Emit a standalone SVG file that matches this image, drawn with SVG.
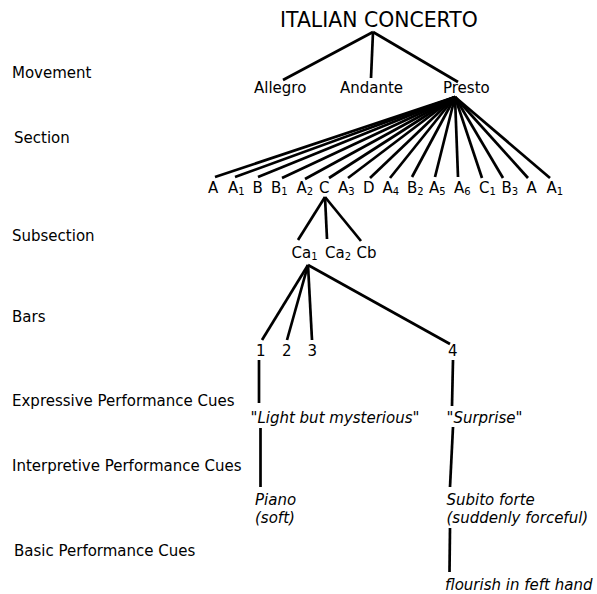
<svg xmlns="http://www.w3.org/2000/svg" width="597" height="594" viewBox="0 0 597 594">
<style>
text{font-family:"DejaVu Sans","Verdana",sans-serif;font-size:15px;fill:#000}
.t{font-size:20.4px}
.i{font-style:italic}
.s{font-size:10px}
#edges line{stroke:#000;stroke-width:2.7;stroke-linecap:butt}
</style>
<rect width="597" height="594" fill="#fff"/>
<g id="levels">
<text x="12" y="78">Movement</text>
<text x="14" y="143">Section</text>
<text x="12" y="241">Subsection</text>
<text x="12" y="322">Bars</text>
<text x="12" y="406">Expressive Performance Cues</text>
<text x="12" y="471">Interpretive Performance Cues</text>
<text x="14" y="556">Basic Performance Cues</text>
</g>
<g id="edges">
<line x1="373" y1="32" x2="283" y2="80"/>
<line x1="373" y1="32" x2="371" y2="78"/>
<line x1="373" y1="32" x2="458" y2="82"/>
<line x1="455" y1="97" x2="215" y2="177"/>
<line x1="455" y1="97" x2="235" y2="177"/>
<line x1="455" y1="97" x2="258" y2="177"/>
<line x1="455" y1="97" x2="282" y2="178"/>
<line x1="455" y1="97" x2="305" y2="179"/>
<line x1="455" y1="97" x2="329" y2="178"/>
<line x1="455" y1="97" x2="348" y2="178"/>
<line x1="455" y1="97" x2="370" y2="178"/>
<line x1="455" y1="97" x2="390" y2="178"/>
<line x1="455" y1="97" x2="412" y2="177"/>
<line x1="455" y1="97" x2="435" y2="177"/>
<line x1="455" y1="97" x2="458" y2="177"/>
<line x1="455" y1="97" x2="482" y2="178"/>
<line x1="455" y1="97" x2="503" y2="178"/>
<line x1="455" y1="97" x2="528" y2="178"/>
<line x1="455" y1="97" x2="550" y2="178"/>
<line x1="325" y1="197" x2="298" y2="240"/>
<line x1="325" y1="197" x2="327" y2="239"/>
<line x1="325" y1="197" x2="361" y2="241"/>
<line x1="308" y1="265" x2="262" y2="340"/>
<line x1="308" y1="265" x2="287" y2="340"/>
<line x1="308" y1="265" x2="312" y2="340"/>
<line x1="308" y1="265" x2="450" y2="344"/>
<line x1="259" y1="360" x2="259" y2="403"/>
<line x1="453" y1="360" x2="452" y2="406"/>
<line x1="260.5" y1="428" x2="260.5" y2="487"/>
<line x1="453" y1="427" x2="450" y2="487"/>
<line x1="450" y1="528" x2="449.5" y2="572"/>
</g>
<g id="n-root"><text class="t" x="280" y="27">ITALIAN CONCERTO</text></g>
<g id="n-allegro"><text x="254" y="93">Allegro</text></g>
<g id="n-andante"><text x="340" y="93">Andante</text></g>
<g id="n-presto"><text x="443" y="93">Presto</text></g>
<g id="n-s1"><text x="208" y="193">A</text></g>
<g id="n-s2"><text x="228" y="193">A<tspan class="s" dy="2">1</tspan></text></g>
<g id="n-s3"><text x="252.5" y="193">B</text></g>
<g id="n-s4"><text x="271" y="193">B<tspan class="s" dy="2">1</tspan></text></g>
<g id="n-s5"><text x="296.5" y="193">A<tspan class="s" dy="2">2</tspan></text></g>
<g id="n-s6"><text x="319" y="193">C</text></g>
<g id="n-s7"><text x="338" y="193">A<tspan class="s" dy="2">3</tspan></text></g>
<g id="n-s8"><text x="363" y="193">D</text></g>
<g id="n-s9"><text x="382.5" y="193">A<tspan class="s" dy="2">4</tspan></text></g>
<g id="n-s10"><text x="407" y="193">B<tspan class="s" dy="2">2</tspan></text></g>
<g id="n-s11"><text x="429" y="193">A<tspan class="s" dy="2">5</tspan></text></g>
<g id="n-s12"><text x="454" y="193">A<tspan class="s" dy="2">6</tspan></text></g>
<g id="n-s13"><text x="479" y="193">C<tspan class="s" dy="2">1</tspan></text></g>
<g id="n-s14"><text x="501.5" y="193">B<tspan class="s" dy="2">3</tspan></text></g>
<g id="n-s15"><text x="526.5" y="193">A</text></g>
<g id="n-s16"><text x="546.5" y="193">A<tspan class="s" dy="2">1</tspan></text></g>
<g id="n-ca1"><text x="291.5" y="258">Ca<tspan class="s" dy="2">1</tspan></text></g>
<g id="n-ca2"><text x="325" y="258">Ca<tspan class="s" dy="2">2</tspan></text></g>
<g id="n-cb"><text x="356.5" y="258">Cb</text></g>
<g id="n-b1"><text x="256" y="356">1</text></g>
<g id="n-b2"><text x="282" y="356">2</text></g>
<g id="n-b3"><text x="307.5" y="356">3</text></g>
<g id="n-b4"><text x="448" y="356">4</text></g>
<g id="n-e1"><text class="i" x="250.5" y="423">"Light but mysterious"</text></g>
<g id="n-e2"><text class="i" x="446.5" y="423">"Surprise"</text></g>
<g id="n-i1"><text class="i" x="255" y="505">Piano</text><text class="i" x="255" y="523">(soft)</text></g>
<g id="n-i2"><text class="i" x="446.5" y="505">Subito forte</text><text class="i" x="446.5" y="523">(suddenly forceful)</text></g>
<g id="n-b"><text class="i" x="445" y="590">flourish in feft hand</text></g>
</svg>
